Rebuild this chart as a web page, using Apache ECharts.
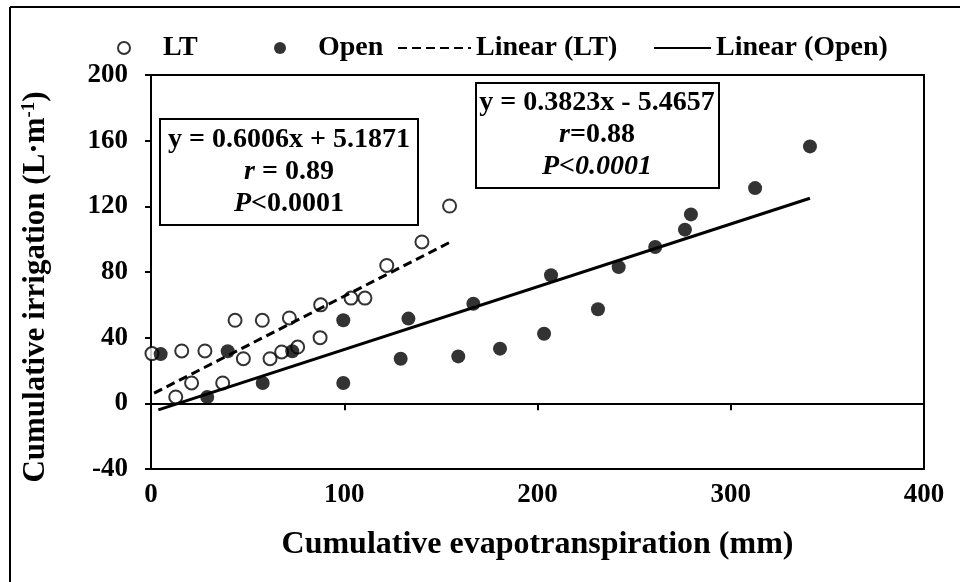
<!DOCTYPE html>
<html>
<head>
<meta charset="utf-8">
<script src="https://cdn.jsdelivr.net/npm/echarts@6/dist/echarts.min.js"></script>
<style>
  html, body { margin: 0; padding: 0; background: #fff; }
  #chart { width: 960px; height: 582px; }
</style>
</head>
<body>
<div id="chart"></div>
<script>
const serif = '"Liberation Serif", "Times New Roman", serif';

// LT (open circles): [cumulative ET mm, cumulative irrigation L/m]
const ltPoints = [
  [0.5, 30.3], [12.8, 3.9], [15.9, 31.9], [21, 12.4], [27.9, 31.9],
  [37.1, 12.4], [43.5, 50.6], [47.8, 27.2], [57.6, 50.6], [61.6, 27.2],
  [67.6, 31.3], [71.6, 52], [75.9, 34.3], [87.5, 40], [87.8, 60],
  [103.5, 64.1], [110.7, 64.1], [122, 84], [140.2, 98.3], [154.5, 120.2]
];

// Open (filled dots)
const openPoints = [
  [5, 30], [29.1, 3.9], [39.7, 31.7], [57.8, 12.4], [73.1, 31.7],
  [99.5, 12.4], [99.5, 50.6], [129.2, 27.2], [133.2, 51.6], [159, 28.6],
  [166.8, 60.7], [180.6, 33.3], [203.4, 42.4], [207, 78], [231.3, 57.3],
  [242, 83], [260.9, 95.2], [276.3, 105.8], [279.4, 115.1], [312.6, 131.1],
  [341, 156.5]
];

// trend line ends as drawn
const ltTrend = [[1.6, 6.2], [154.5, 98]];
const openTrend = [[3.8, -4.0], [341, 124.9]];

const xTicks = [0, 100, 200, 300, 400];
const yTicks = [-40, 0, 40, 80, 120, 160, 200];

const seriesNames = ['LT', 'Open', 'Linear (LT)', 'Linear (Open)'];

const chart = echarts.init(document.getElementById('chart'));

const labelFont = { color: '#000', fontFamily: serif, fontWeight: 'bold', fontSize: 27 };

function legendItem(name, left, width, textPad, hideDot) {
  const lg = {
    data: [name],
    left: left, top: 34, padding: 0,
    itemWidth: width, itemHeight: 12,
    textStyle: {
      color: '#000', fontFamily: serif, fontWeight: 'bold', fontSize: 28,
      padding: [0, 0, 0, textPad]
    }
  };
  if (hideDot) lg.itemStyle = { opacity: 0 };
  return lg;
}

const option = {
  animation: false,
  backgroundColor: '#fff',
  grid: {
    left: 151, right: 36, top: 75, bottom: 113,
    show: true, borderColor: '#000', borderWidth: 2
  },
  legend: [
    legendItem(seriesNames[0], 117, 12, 28, false),
    legendItem(seriesNames[1], 274, 12, 27, false),
    legendItem(seriesNames[2], 397, 73, 0, true),
    legendItem(seriesNames[3], 653, 57, 0, true)
  ],
  xAxis: [
    {
      type: 'value', position: 'bottom',
      min: xTicks[0], max: xTicks[xTicks.length - 1], interval: xTicks[1] - xTicks[0],
      axisLine: { show: false, onZero: false },
      axisTick: { show: false },
      splitLine: { show: false },
      axisLabel: Object.assign({ margin: 13 }, labelFont),
      name: 'Cumulative evapotranspiration (mm)',
      nameLocation: 'middle',
      nameGap: 60,
      nameTextStyle: { color: '#000', fontFamily: serif, fontWeight: 'bold', fontSize: 32 }
    },
    {
      // the axis line that crosses at y = 0, with ticks hanging below
      type: 'value', position: 'bottom',
      min: xTicks[0], max: xTicks[xTicks.length - 1], interval: xTicks[1] - xTicks[0],
      axisLine: { show: true, onZero: true, lineStyle: { color: '#000', width: 2 } },
      axisTick: { show: true, inside: false, length: 7, lineStyle: { color: '#000', width: 2 } },
      axisLabel: { show: false },
      splitLine: { show: false }
    }
  ],
  yAxis: {
    type: 'value',
    min: yTicks[0], max: yTicks[yTicks.length - 1], interval: yTicks[1] - yTicks[0],
    axisLine: { show: true, onZero: false, lineStyle: { color: '#000', width: 2 } },
    axisTick: { show: true, inside: false, length: 6, lineStyle: { color: '#000', width: 2 } },
    splitLine: { show: false },
    axisLabel: Object.assign({ margin: 23 }, labelFont),
    name: '{t|Cumulative irrigation (L·m}{s|-1}{t|)}',
    nameLocation: 'middle',
    nameGap: 100,
    nameTextStyle: {
      color: '#000',
      padding: [0, 30, 0, 0],
      rich: {
        t: { fontFamily: serif, fontWeight: 'bold', fontSize: 31, color: '#000' },
        s: { fontFamily: serif, fontWeight: 'bold', fontSize: 19, color: '#000', verticalAlign: 'top' }
      }
    }
  },
  series: [
    {
      name: seriesNames[0], type: 'scatter', xAxisIndex: 0,
      data: ltPoints, symbol: 'circle', symbolSize: 13,
      itemStyle: { color: '#fff', borderColor: '#000', borderWidth: 2 }
    },
    {
      name: seriesNames[1], type: 'scatter', xAxisIndex: 0,
      data: openPoints, symbol: 'circle', symbolSize: 14,
      itemStyle: { color: '#000' }
    },
    {
      name: seriesNames[2], type: 'line', xAxisIndex: 0,
      data: ltTrend, symbol: 'none',
      lineStyle: { color: '#000', width: 3, type: [9, 5] },
      itemStyle: { color: '#000' }
    },
    {
      name: seriesNames[3], type: 'line', xAxisIndex: 0,
      data: openTrend, symbol: 'none',
      lineStyle: { color: '#000', width: 3 },
      itemStyle: { color: '#000' }
    }
  ],
  graphic: [
    // figure frame (left and top edges)
    { type: 'line', shape: { x1: 10, y1: 7, x2: 10, y2: 582 }, style: { stroke: '#000', lineWidth: 2 } },
    { type: 'line', shape: { x1: 10, y1: 7, x2: 960, y2: 7 }, style: { stroke: '#000', lineWidth: 2 } },
    {
      type: 'group', left: 159, top: 118,
      children: [
        { type: 'rect', shape: { x: 0, y: 0, width: 258, height: 106 }, style: { fill: '#fff', stroke: '#000', lineWidth: 2 } },
        {
          type: 'text', x: 129, y: 53,
          style: {
            text: '{b|y = 0.6006x + 5.1871}\n{i|r}{b| = 0.89}\n{i|P}{b|<0.0001}',
            align: 'center', verticalAlign: 'middle',
            rich: {
              b: { fontFamily: serif, fontWeight: 'bold', fontSize: 28, lineHeight: 32, fill: '#000' },
              i: { fontFamily: serif, fontWeight: 'bold', fontStyle: 'italic', fontSize: 28, lineHeight: 32, fill: '#000' }
            }
          }
        }
      ]
    },
    {
      type: 'group', left: 475, top: 82,
      children: [
        { type: 'rect', shape: { x: 0, y: 0, width: 243, height: 105 }, style: { fill: '#fff', stroke: '#000', lineWidth: 2 } },
        {
          type: 'text', x: 121, y: 52,
          style: {
            text: '{b|y = 0.3823x - 5.4657}\n{i|r}{b|=0.88}\n{i|P<0.0001}',
            align: 'center', verticalAlign: 'middle',
            rich: {
              b: { fontFamily: serif, fontWeight: 'bold', fontSize: 28, lineHeight: 32, fill: '#000' },
              i: { fontFamily: serif, fontWeight: 'bold', fontStyle: 'italic', fontSize: 28, lineHeight: 32, fill: '#000' }
            }
          }
        }
      ]
    }
  ]
};

chart.setOption(option);
</script>
</body>
</html>
